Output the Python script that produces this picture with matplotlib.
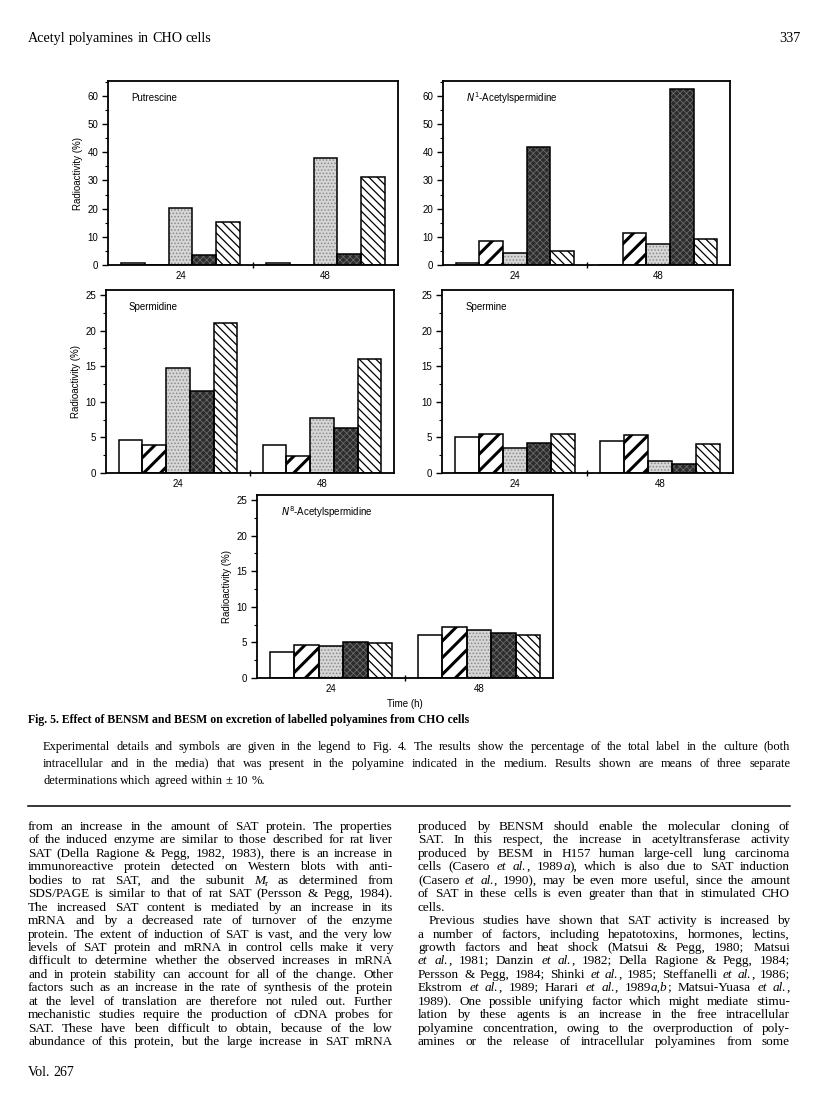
import math
import numpy as np
import matplotlib
matplotlib.use('Agg')
import matplotlib.pyplot as plt
from matplotlib.ticker import MultipleLocator

plt.rcParams['font.family'] = ['Liberation Sans', 'DejaVu Sans']

W, H = 816, 1093

times = ['24', '48']

# radioactivity (%) in medium; rows = time (24 h, 48 h), cols = the five bar symbols of Fig. 4
putrescine = np.array([[0.8, 0.0, 20.4, 3.6, 15.1],
                       [0.7, 0.0, 38.1, 4.0, 31.3]])
n1_acetylspermidine = np.array([[0.6, 8.6, 4.1, 41.8, 5.0],
                                [0.0, 11.2, 7.5, 62.6, 9.3]])
spermidine = np.array([[4.6, 3.9, 14.8, 11.5, 21.1],
                       [3.9, 2.4, 7.7, 6.3, 16.0]])
spermine = np.array([[5.0, 5.5, 3.5, 4.2, 5.5],
                     [4.5, 5.3, 1.7, 1.3, 4.1]])
n8_acetylspermidine = np.array([[3.6, 4.7, 4.5, 5.1, 4.9],
                                [6.0, 7.2, 6.7, 6.3, 6.0]])

# bar symbols
bar_faces = ['white', 'white', '#d6d6d6', '#2c2c2c', 'white']
bar_hatches = [None, '//', '.....', 'xxxxx', '\\\\\\\\']
hatch_colors = ['black', 'black', '#8a8a8a', '#6a6a6a', 'black']
hatch_widths = [0.5, 2.2, 0.7, 0.6, 0.9]

fig = plt.figure(figsize=(W / 100, H / 100), dpi=100)
renderer = fig.canvas.get_renderer()


def panel(box, values, top, step, name, ylabel=False, xlabel=False):
    l, t, r, b = box
    ax = fig.add_axes([l / W, 1 - b / H, (r - l) / W, (b - t) / H])
    x = np.arange(len(times))
    width = 0.165
    for i in range(values.shape[1]):
        xs = x + (i - 2) * width
        with plt.rc_context({'hatch.linewidth': hatch_widths[i]}):
            bars = ax.bar(xs, values[:, i], width, color=bar_faces[i],
                          edgecolor=hatch_colors[i], linewidth=0,
                          hatch=bar_hatches[i], zorder=2)
        for p in bars:
            if hasattr(p, 'set_hatch_linewidth'):
                p.set_hatch_linewidth(hatch_widths[i])
        ax.bar(xs, values[:, i], width, fill=False, edgecolor='black',
               linewidth=1.1, zorder=3)
    ax.set_xlim(-0.5, 1.5)
    ax.set_ylim(0, top)
    ax.set_yticks(np.arange(0, top, step))
    ax.yaxis.set_minor_locator(MultipleLocator(step / 2))
    ax.set_xticks([0, 1], times)
    ax.set_xticks([0.5], minor=True)
    ax.tick_params(axis='x', which='major', length=0, pad=4, labelsize=7)
    ax.tick_params(axis='x', which='minor', length=5, direction='inout', width=1)
    ax.tick_params(axis='y', which='major', length=4, width=1, pad=3, labelsize=7)
    ax.tick_params(axis='y', which='minor', length=2, width=0.8)
    for s in ax.spines.values():
        s.set_linewidth(1.3)
    if ylabel:
        ax.set_ylabel('Radioactivity (%)', fontsize=7, labelpad=3)
    if xlabel:
        ax.set_xlabel('Time (h)', fontsize=7, labelpad=4)
    ax.text(0.08, 0.905, name, transform=ax.transAxes, fontsize=7, va='center',
            math_fontfamily='dejavusans')
    return ax


panel((108, 81, 398, 265), putrescine, 65.3, 10, 'Putrescine', ylabel=True)
panel((443, 81, 730, 265), n1_acetylspermidine, 65.3, 10,
      r'$\mathit{N}^{1}$-Acetylspermidine')
panel((106, 290, 394, 473), spermidine, 25.7, 5, 'Spermidine', ylabel=True)
panel((442, 290, 733, 473), spermine, 25.7, 5, 'Spermine')
panel((257, 495, 553, 678), n8_acetylspermidine, 25.7, 5,
      r'$\mathit{N}^{8}$-Acetylspermidine', ylabel=True, xlabel=True)


# ---- page text: one Text per word piece, justified; *..* italic, ~..~ subscript ----
def parse(line):
    words, cur, state = [], [], {'buf': '', 'it': False, 'sub': False}

    def flush():
        if state['buf']:
            cur.append((state['buf'], state['it'], state['sub']))
            state['buf'] = ''

    for ch in line:
        if ch == '*':
            flush()
            state['it'] = not state['it']
        elif ch == '~':
            flush()
            state['sub'] = not state['sub']
        elif ch == ' ':
            flush()
            if cur:
                words.append(list(cur))
                cur.clear()
        else:
            state['buf'] += ch
    flush()
    if cur:
        words.append(list(cur))
    return words


def piece(s, y, size, italic, sub, weight):
    fs = size * 0.7 if sub else size
    yy = y + (round(size * 0.25) if sub else 0)
    t = fig.text(0, 1 - yy / H, s, fontsize=fs, family='Liberation Serif',
                 style='italic' if italic else 'normal', weight=weight,
                 va='baseline')
    w, h, d = renderer.get_text_width_height_descent(s, t.get_fontproperties(), ismath=False)
    # Agg snaps each bitmap to whole pixels; undo the offset so baselines line up
    off = round(d) - math.floor(h) + math.floor(h - d)
    t.set_y(1 - (yy - off) / H)
    return t, t.get_window_extent(renderer).width


def put_line(s, x0, x1, y, size, justify=True, weight='normal'):
    words = parse(s)
    built = []
    for wd in words:
        built.append([piece(txt, y, size, it, sub, weight) for txt, it, sub in wd])
    widths = [sum(w for _, w in pcs) for pcs in built]
    if justify and len(words) > 1:
        gap = (x1 - x0 - sum(widths)) / (len(words) - 1)
        gap = max(gap, 1.5)
    else:
        gap = size * 100 / 72 * 0.25
    xx = x0
    for pcs, wsum in zip(built, widths):
        px = xx
        for t, w in pcs:
            t.set_x(px / W)
            px += w
        xx += wsum + gap


# page header
put_line('Acetyl polyamines in CHO cells', 28, 0, 42, 10.2, justify=False)
fig.text(800 / W, 1 - 42 / H, '337', fontsize=10.2, family='Liberation Serif',
         va='baseline', ha='right')

# legend
fig.text(28 / W, 1 - 723 / H,
         'Fig. 5. Effect of BENSM and BESM on excretion of labelled polyamines from CHO cells',
         fontsize=8.5, family='Liberation Serif', weight='bold', va='baseline')
caption = [
    'Experimental details and symbols are given in the legend to Fig. 4. The results show the percentage of the total label in the culture (both',
    'intracellular and in the media) that was present in the polyamine indicated in the medium. Results shown are means of three separate',
]
for k, s in enumerate(caption):
    put_line(s, 43, 790, 750 + k * 17, 9)
put_line('determinations which agreed within \u00b1 10 %.', 43, 0, 784, 9, justify=False)
fig.add_artist(plt.Line2D([28 / W, 790 / W], [1 - 806 / H] * 2, color='black', lw=1.1))

left_col = [
    'from an increase in the amount of SAT protein. The properties',
    'of the induced enzyme are similar to those described for rat liver',
    'SAT (Della Ragione & Pegg, 1982, 1983), there is an increase in',
    'immunoreactive protein detected on Western blots with anti-',
    'bodies to rat SAT, and the subunit *M*~r~ as determined from',
    'SDS/PAGE is similar to that of rat SAT (Persson & Pegg, 1984).',
    'The increased SAT content is mediated by an increase in its',
    'mRNA and by a decreased rate of turnover of the enzyme',
    'protein. The extent of induction of SAT is vast, and the very low',
    'levels of SAT protein and mRNA in control cells make it very',
    'difficult to determine whether the observed increases in mRNA',
    'and in protein stability can account for all of the change. Other',
    'factors such as an increase in the rate of synthesis of the protein',
    'at the level of translation are therefore not ruled out. Further',
    'mechanistic studies require the production of cDNA probes for',
    'SAT. These have been difficult to obtain, because of the low',
    'abundance of this protein, but the large increase in SAT mRNA',
]
right_col = [
    'produced by BENSM should enable the molecular cloning of',
    'SAT. In this respect, the increase in acetyltransferase activity',
    'produced by BESM in H157 human large-cell lung carcinoma',
    'cells (Casero *et al.*, 1989*a*), which is also due to SAT induction',
    '(Casero *et al.*, 1990), may be even more useful, since the amount',
    'of SAT in these cells is even greater than that in stimulated CHO',
    'cells.',
    'Previous studies have shown that SAT activity is increased by',
    'a number of factors, including hepatotoxins, hormones, lectins,',
    'growth factors and heat shock (Matsui & Pegg, 1980; Matsui',
    '*et al.*, 1981; Danzin *et al.*, 1982; Della Ragione & Pegg, 1984;',
    'Persson & Pegg, 1984; Shinki *et al.*, 1985; Steffanelli *et al.*, 1986;',
    'Ekstrom *et al.*, 1989; Harari *et al.*, 1989*a,b*; Matsui-Yuasa *et al.*,',
    '1989). One possible unifying factor which might mediate stimu-',
    'lation by these agents is an increase in the free intracellular',
    'polyamine concentration, owing to the overproduction of poly-',
    'amines or the release of intracellular polyamines from some',
]
body_size = 9.5
y0, dy = 830, 13.45
for k, s in enumerate(left_col):
    put_line(s, 28, 393, y0 + round(k * dy), body_size)
for k, s in enumerate(right_col):
    yk = y0 + round(k * dy)
    if s == 'cells.':
        put_line(s, 418, 0, yk, body_size, justify=False)
    elif s.startswith('Previous'):
        put_line(s, 429, 790, yk, body_size)
    else:
        put_line(s, 418, 790, yk, body_size)

put_line('Vol. 267', 28, 0, 1076, 10, justify=False)

fig.savefig('out.png', dpi=100)
